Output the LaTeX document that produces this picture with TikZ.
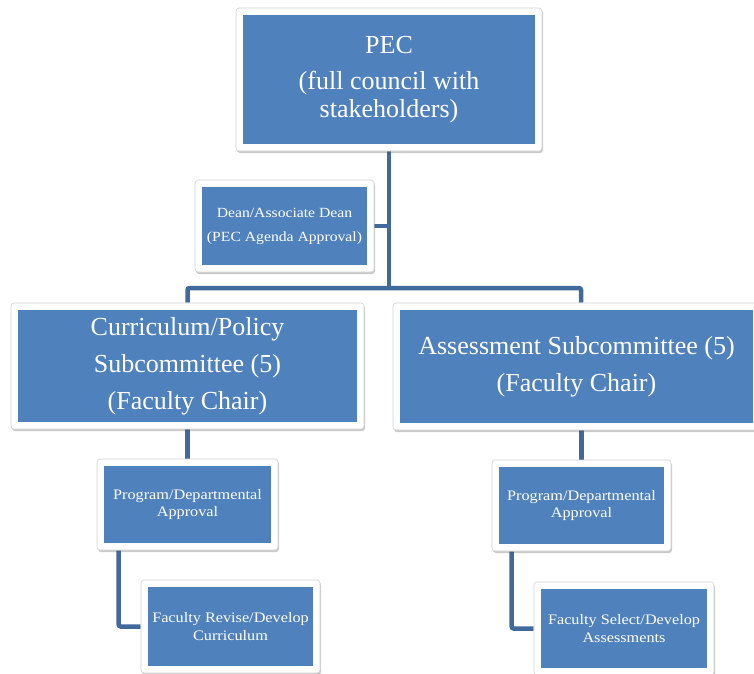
\documentclass[tikz,border=0pt]{standalone}
\usepackage{fontspec}
\setmainfont{Liberation Serif}
\newfontfamily\wideserif[FakeStretch=1.12]{Liberation Serif}
\usetikzlibrary{shadows,backgrounds}
\definecolor{boxblue}{HTML}{4F81BD}
\definecolor{linkblue}{HTML}{41699C}
\tikzset{
  frame/.style={draw=black!18, line width=0.6pt, fill=white, rounded corners=3pt,
    drop shadow={shadow xshift=1pt, shadow yshift=-2pt, opacity=0.3, fill=black!70}, inner sep=0pt},
  innerbox/.style={fill=boxblue, text=white, align=center, inner sep=0pt},
  conn/.style={draw=linkblue, line width=4.5pt, rounded corners=2pt},
  bigtext/.style={font=\fontsize{26}{28}\selectfont},
  subtext/.style={font=\fontsize{26}{37}\selectfont},
  smalltext/.style={font=\wideserif\fontsize{14.5}{17.5}\selectfont},
  deantext/.style={font=\wideserif\fontsize{14}{24}\selectfont},
}
\newcommand\orgbox[7]{%
  \node[frame, minimum width=#4pt, minimum height=#5pt] (#1) at (#2,#3) {};
  \node[innerbox, #6, minimum width=#4pt-14pt, minimum height=#5pt-14pt] (#1-in) at (#2,#3) {#7};
}
\begin{document}
\begin{tikzpicture}[x=1pt,y=-1pt]
\useasboundingbox (0,0) rectangle (754,673);
\orgbox{pec}{389}{79.5}{306}{143}{bigtext}{PEC\\[8pt](full council with\\stakeholders)}
\orgbox{dean}{284.5}{226}{179}{92}{deantext}{Dean/Associate Dean\\(PEC Agenda Approval)}
\orgbox{cur}{187.5}{366}{353}{126}{subtext}{Curriculum/Policy\\Subcommittee (5)\\(Faculty Chair)}
\orgbox{ass}{576.5}{366.5}{367}{127}{subtext}{Assessment Subcommittee (5)\\(Faculty Chair)}
\orgbox{prog1}{187.5}{504.5}{181}{91}{smalltext}{Program/Departmental\\Approval}
\orgbox{prog2}{581.5}{505.5}{179}{91}{smalltext}{Program/Departmental\\Approval}
\orgbox{fac1}{230.5}{626.5}{179}{93}{smalltext}{Faculty Revise/Develop\\Curriculum}
\orgbox{fac2}{624}{628.5}{180}{93}{smalltext}{Faculty Select/Develop\\Assessments}
\coordinate (jl) at (188,288);
\coordinate (jr) at (581,288);
\begin{scope}[on background layer]
  \draw[conn] (pec.south) -- (pec.south |- jl);
  \draw[conn] (dean.east) -- (dean.east -| pec.south);
  \draw[conn] (cur.north) |- (jr) -- (jr |- ass.north);
  \draw[conn] (cur.south) -- (prog1.north);
  \draw[conn] (ass.south -| prog2.north) -- (prog2.north);
  \draw[conn] ([xshift=22pt]prog1.south west) |- (fac1.west);
  \draw[conn] ([xshift=20pt]prog2.south west) |- (fac2.west);
\end{scope}
\end{tikzpicture}
\end{document}
